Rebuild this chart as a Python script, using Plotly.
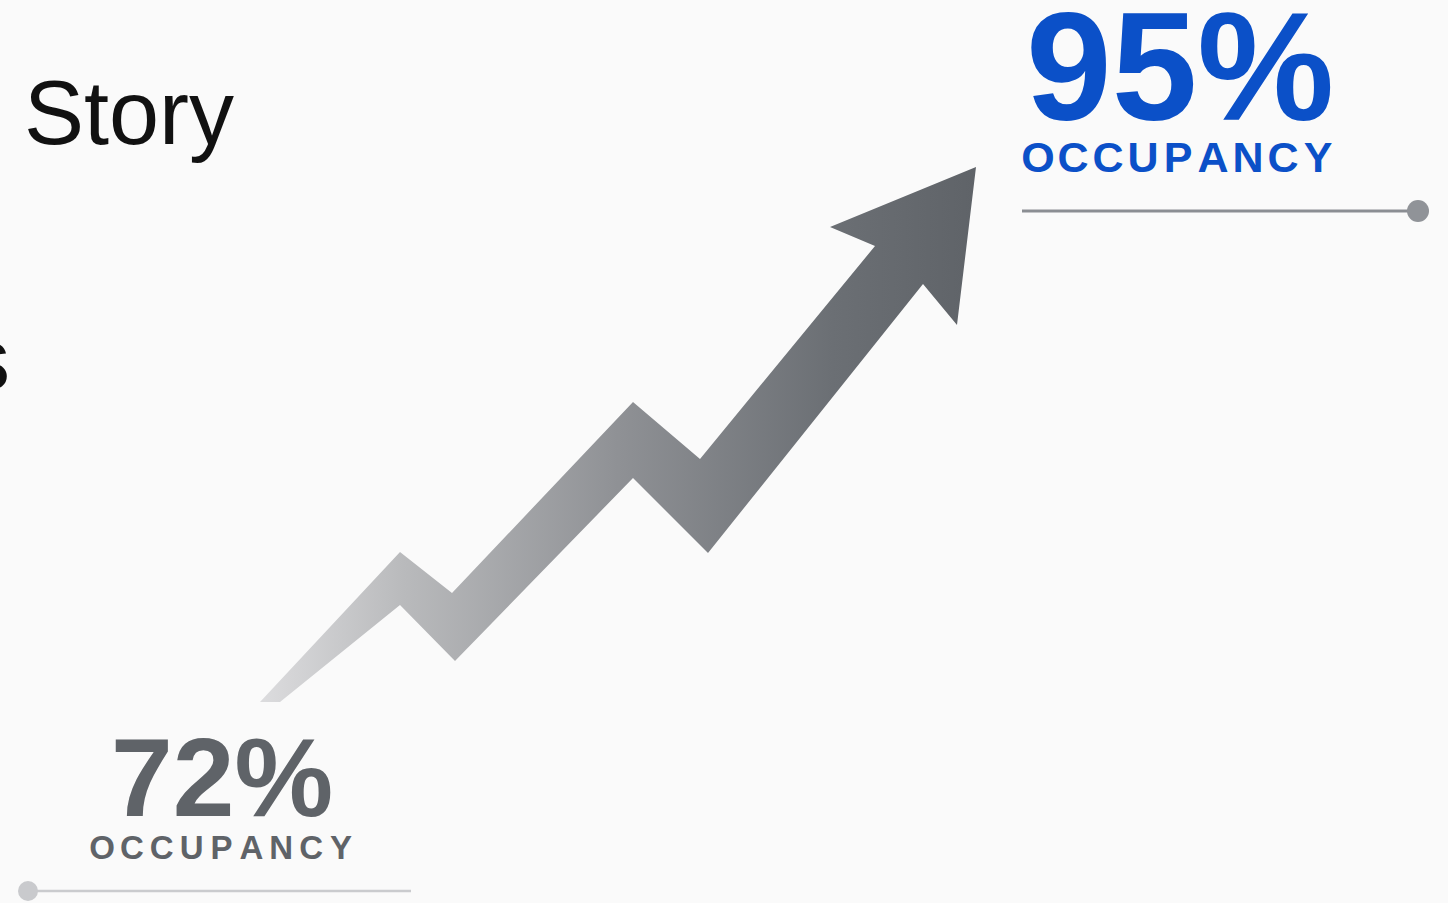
import plotly.graph_objects as go

W, H = 1448, 903

# Arrow outline (zig-zag rising arrow), in canvas units
arrow_x = [260, 400, 452, 633, 700, 875, 830, 976, 957, 923, 708, 633, 455, 400, 280, 260]
arrow_y = [702, 552, 593, 402, 459, 246, 227, 167, 325, 284, 553, 478, 661, 605, 702, 702]

# Headline values
start_value = "72%"
end_value = "95%"
metric_label = "OCCUPANCY"
title_text = "Story"

BLUE = "#0b50c8"
GRAY_TXT = "#5f6368"

fig = go.Figure()

# Arrow with gradient fill
fig.add_trace(go.Scatter(
    x=arrow_x, y=arrow_y, mode="lines", fill="toself",
    line=dict(width=0, color="rgba(0,0,0,0)"),
    fillgradient=dict(type="horizontal",
                      colorscale=[[0, "#dcdcde"], [0.2, "#b9babc"], [0.5, "#8f9195"],
                                  [0.8, "#6b6f74"], [1, "#5f6368"]]),
    hoverinfo="skip", showlegend=False))

# Top rule with dot
fig.add_trace(go.Scatter(x=[1022, 1418], y=[211, 211], mode="lines",
                         line=dict(color="#8b8e93", width=3), showlegend=False, hoverinfo="skip"))
fig.add_trace(go.Scatter(x=[1418], y=[211], mode="markers",
                         marker=dict(size=22, color="#909398"), showlegend=False, hoverinfo="skip"))
# Bottom rule with dot
fig.add_trace(go.Scatter(x=[28, 411], y=[891, 891], mode="lines",
                         line=dict(color="#cacbce", width=2.5), showlegend=False, hoverinfo="skip"))
fig.add_trace(go.Scatter(x=[28], y=[891], mode="markers",
                         marker=dict(size=20, color="#c9cacd"), showlegend=False, hoverinfo="skip"))

# Letter-spaced labels
def spaced(label, x0, x1, y, size, color):
    n = len(label)
    xs = [x0 + i * (x1 - x0) / (n - 1) for i in range(n)]
    fig.add_trace(go.Scatter(x=xs, y=[y] * n, mode="text", text=list(label),
                             textposition="middle center",
                             textfont=dict(family="Liberation Sans", size=size, color=color, weight=700),
                             showlegend=False, hoverinfo="skip"))

spaced(metric_label, 1038, 1318, 161, 43, BLUE)
spaced(metric_label, 102, 341, 851, 33, GRAY_TXT)

annos = [
    dict(text=title_text, x=22, y=113, xanchor="left", yanchor="middle",
         font=dict(family="Liberation Sans", size=90, color="#111111")),
    dict(text="s", x=12, y=358, xanchor="right", yanchor="middle",
         font=dict(family="Liberation Sans", size=88, color="#111111")),
    dict(text=end_value, x=1024, y=67, xanchor="left", yanchor="middle",
         font=dict(family="Liberation Sans", size=154, color=BLUE, weight=700)),
    dict(text=start_value, x=109, y=778, xanchor="left", yanchor="middle",
         font=dict(family="Liberation Sans", size=111, color=GRAY_TXT, weight=700)),
]
for a in annos:
    fig.add_annotation(xref="x", yref="y", showarrow=False, **a)

fig.update_layout(
    width=W, height=H, margin=dict(l=0, r=0, t=0, b=0),
    paper_bgcolor="#fafafa", plot_bgcolor="#fafafa",
    xaxis=dict(range=[0, W], visible=False, fixedrange=True),
    yaxis=dict(range=[H, 0], visible=False, fixedrange=True),
    showlegend=False,
)
fig.write_html("out.html", config={"displayModeBar": False})
